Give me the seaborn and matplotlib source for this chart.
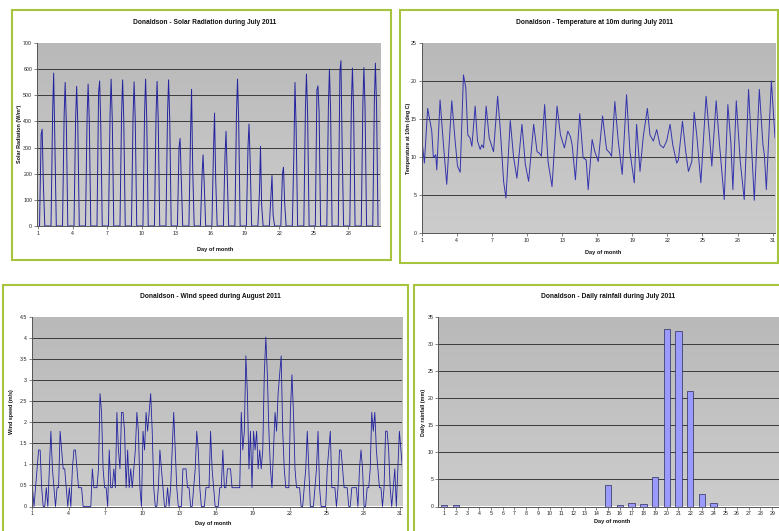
import numpy as np
import pandas as pd
import matplotlib
matplotlib.use("Agg")
import matplotlib.pyplot as plt
import seaborn as sns
from matplotlib.patches import Rectangle
from matplotlib.colors import LinearSegmentedColormap

sns.set_theme(style="white")
plt.rcParams['font.family'] = ['Liberation Sans', 'DejaVu Sans']

W, H = 779, 531

# ---- solar radiation, July 2011 (W/m2), one spike per day ----
solar_days = list(range(1, 31))
solar_peak = [370, 585, 549, 534, 543, 555, 562, 559, 551, 562, 553, 559, 335, 523, 272,
              432, 362, 562, 390, 305, 193, 225, 549, 581, 536, 600, 632, 604, 606, 623]
solar_am = [350, 435, 420, 410, 420, 510, 430, 430, 420, 430, 425, 430, 300, 345, 190,
            290, 270, 430, 300, 130, 120, 200, 290, 450, 520, 460, 590, 470, 470, 480]
solar_pm = [165, 335, 400, 390, 400, 385, 410, 410, 405, 410, 405, 410, 190, 218, 165,
            180, 200, 405, 250, 80, 40, 90, 380, 430, 435, 440, 320, 450, 450, 460]
day_frac = [0.12, 0.26, 0.35, 0.45, 0.58]   # sunrise, morning, noon, afternoon, sunset

# ---- temperature at 10m (deg C), turning points ----
temp_day = [1.0, 1.23, 1.51, 1.86, 2.0, 2.2, 2.29, 2.57, 2.86, 3.14, 3.57, 3.86, 4.06, 4.29,
            4.57, 4.77, 4.94, 5.14, 5.29, 5.57, 5.77, 6.0, 6.14, 6.29, 6.51, 6.77, 7.14, 7.49,
            7.71, 8.0, 8.2, 8.57, 8.86, 9.14, 9.57, 9.86, 10.14, 10.57, 10.86, 11.06, 11.23,
            11.51, 11.8, 12.14, 12.57, 12.86, 13.2, 13.49, 13.71, 13.86, 14.14, 14.51, 14.8,
            15.06, 15.23, 15.57, 15.8, 16.09, 16.46, 16.8, 17.09, 17.23, 17.51, 17.8, 18.14,
            18.51, 18.8, 19.17, 19.37, 19.66, 19.94, 20.29, 20.51, 20.8, 21.09, 21.37, 21.66,
            21.94, 22.23, 22.46, 22.8, 22.94, 23.29, 23.57, 23.8, 24.09, 24.29, 24.51, 24.86,
            25.31, 25.6, 25.8, 26.17, 26.46, 26.86, 27.17, 27.43, 27.6, 27.89, 28.23, 28.57,
            28.94, 29.23, 29.43, 29.86, 30.17, 30.29, 30.46, 30.89, 31.2]
temp_val = [12.5, 9.2, 16.4, 13.4, 9.9, 10.3, 8.3, 17.5, 11.6, 6.4, 17.4, 12.1, 8.8, 8.0,
            20.8, 19.1, 12.9, 12.5, 11.4, 16.7, 12.1, 11.0, 11.6, 11.2, 16.7, 12.5, 10.7, 18.0,
            13.8, 6.8, 4.6, 14.8, 9.9, 7.2, 14.3, 9.0, 6.8, 14.3, 10.7, 10.5, 10.1,
            16.9, 9.4, 6.1, 16.7, 12.9, 11.2, 13.4, 12.7, 11.6, 7.0, 15.7, 9.9,
            9.6, 5.7, 12.3, 10.7, 9.4, 15.4, 11.0, 10.5, 10.1, 17.3, 12.1, 7.7,
            18.2, 10.7, 6.6, 14.3, 8.1, 12.7, 16.4, 12.9, 12.1, 13.6, 11.6, 11.2,
            12.1, 14.3, 11.6, 9.2, 9.6, 14.7, 10.7, 8.1, 9.4, 15.9, 12.9, 6.6,
            18.0, 12.9, 8.8, 17.4, 11.6, 4.4, 16.9, 11.8, 5.7, 17.4, 9.4, 4.4,
            18.9, 10.3, 4.3, 18.9, 11.6, 10.3, 5.7, 20.0, 12.5]

# ---- wind speed, August 2011: 3-hourly readings in whole mph ----
wind_mph = [
    1, 0, 1, 2, 3, 3, 1, 0,   # 1
    0, 1, 0, 2, 4, 2, 1, 0,   # 2
    1, 1, 4, 3, 2, 2, 1, 0,   # 3
    1, 0, 2, 3, 3, 2, 1, 1,   # 4
    1, 0, 0, 0, 0, 0, 0, 2,   # 5
    1, 1, 1, 2, 6, 5, 2, 1,   # 6
    1, 0, 3, 1, 1, 2, 1, 5,   # 7
    3, 2, 5, 5, 4, 1, 3, 1,   # 8
    2, 1, 2, 3, 5, 4, 1, 0,   # 9
    4, 3, 5, 4, 5, 6, 4, 1,   # 10
    0, 0, 1, 3, 2, 1, 0, 0,   # 11
    1, 0, 1, 3, 5, 3, 1, 0,   # 12
    0, 0, 2, 2, 2, 1, 1, 0,   # 13
    0, 1, 2, 4, 3, 1, 0, 0,   # 14
    0, 1, 1, 1, 4, 2, 1, 0,   # 15
    0, 0, 1, 1, 3, 1, 1, 2,   # 16
    2, 2, 1, 1, 1, 1, 1, 1,   # 17
    5, 3, 4, 8, 6, 2, 4, 1,   # 18
    4, 3, 4, 2, 3, 2, 3, 7,   # 19
    9, 7, 4, 2, 1, 3, 5, 4,   # 20
    6, 7, 8, 4, 2, 1, 1, 1,   # 21
    5, 7, 5, 2, 1, 1, 1, 0,   # 22
    0, 1, 2, 4, 2, 0, 0, 0,   # 23
    1, 2, 4, 1, 0, 0, 0, 0,   # 24
    2, 3, 4, 1, 1, 1, 0, 1,   # 25
    3, 3, 2, 1, 1, 1, 0, 0,   # 26
    1, 1, 1, 1, 0, 2, 3, 2,   # 27
    0, 0, 1, 1, 2, 5, 4, 5,   # 28
    3, 2, 1, 1, 0, 1, 4, 4,   # 29
    3, 1, 0, 1, 2, 0, 2, 4,   # 30
    3, 2, 1, 0, 0, 0, 0, 0,   # 31
]

# ---- daily rainfall, July 2011 (mm) ----
rain_days = [str(d) for d in range(1, 32)]
rain_mm = [0.2, 0.2, 0, 0, 0, 0, 0, 0, 0, 0, 0, 0, 0, 0, 4.0, 0.2, 0.7, 0.5, 5.4, 32.7,
           32.4, 21.4, 2.3, 0.7, 0, 0, 0, 0, 0, 0, 0]

GREEN = '#a6c43e'
GRID = '#3a3a3a'
bg_cmap = LinearSegmentedColormap.from_list('bg', ['#cccccc', '#b9b9b9'])


def px_axes(fig, left, top, right, bottom):
    return fig.add_axes([left / W, 1 - bottom / H, (right - left) / W, (bottom - top) / H])


def frame(fig, left, top, right, bottom):
    fig.add_artist(Rectangle((left / W, 1 - bottom / H), (right - left) / W, (bottom - top) / H,
                             transform=fig.transFigure, fill=False, edgecolor=GREEN, lw=1.5))


def ftext(fig, x, y, s, size=4.3, rot=0):
    fig.text(x / W, 1 - y / H, s, ha='center', va='center', fontsize=size,
             fontweight='bold', rotation=rot, color='#111111')


def style(ax, xlim, ylim, yticks, xticks=None, xlabels=None):
    ax.imshow(np.linspace(0, 1, 64).reshape(-1, 1), extent=[0, 1, 0, 1], transform=ax.transAxes,
              cmap=bg_cmap, aspect='auto', origin='lower', zorder=0)
    ax.set_xlim(*xlim)
    ax.set_ylim(*ylim)
    ax.set_yticks(yticks)
    ax.set_yticklabels(['{:g}'.format(v) for v in yticks])
    if xticks is not None:
        ax.set_xticks(xticks)
        ax.set_xticklabels(xlabels if xlabels is not None else [str(v) for v in xticks])
    ax.set_xlabel('')
    ax.set_ylabel('')
    ax.yaxis.grid(True, color=GRID, lw=0.7)
    ax.set_axisbelow(True)
    gl = ax.get_ygridlines()
    gl[0].set_visible(False)
    gl[-1].set_visible(False)
    for s in ['top', 'right']:
        ax.spines[s].set_visible(False)
    for s in ['left', 'bottom']:
        ax.spines[s].set_color('#555555')
        ax.spines[s].set_linewidth(0.7)
    ax.tick_params(axis='both', labelsize=3.8, length=2, width=0.5, pad=1.5,
                   direction='out', colors='#555555', labelcolor='#222222')
    ax.tick_params(left=True, bottom=True)


fig = plt.figure(figsize=(W / 100, H / 100), dpi=100)
fig.patch.set_facecolor('white')

# solar radiation
frame(fig, 12, 10, 391, 260)
sx, sy = [], []
for d, a, p, m in zip(solar_days, solar_am, solar_peak, solar_pm):
    for f, v in zip(day_frac, [0, a, p, m, 0]):
        sx.append(d + f)
        sy.append(v)
ax1 = px_axes(fig, 37, 43, 380, 226)
sns.lineplot(x=sx, y=sy, ax=ax1, color='#2424a0', lw=0.7, estimator=None, sort=False)
style(ax1, (0.9, 30.75), (0, 700), list(range(0, 701, 100)), list(range(1, 29, 3)))
ftext(fig, 205, 22, 'Donaldson - Solar Radiation during July 2011', 4.8)
ftext(fig, 19, 134, 'Solar Radiation (W/m²)', 3.9, 90)
ftext(fig, 215, 250, 'Day of month', 4.1)

# temperature
frame(fig, 400, 10, 778, 263)
ax2 = px_axes(fig, 421.7, 43, 775, 233)
sns.lineplot(x=temp_day, y=temp_val, ax=ax2, color='#3434ac', lw=0.7, estimator=None, sort=False)
style(ax2, (1, 31.2), (0, 25), list(range(0, 26, 5)), list(range(1, 32, 3)))
ftext(fig, 595, 23, 'Donaldson - Temperature at 10m during July 2011', 4.8)
ftext(fig, 408, 138, 'Temperature at 10m (deg C)', 3.9, 90)
ftext(fig, 603, 252, 'Day of month', 4.1)

# wind speed
frame(fig, 3, 285, 408, 540)
wx, wy = [], []
for i, v in enumerate(wind_mph):
    wx.append(1 + i // 8 + (i % 8) / 8 + 1 / 16)
    wy.append(v * 0.447)
ax3 = px_axes(fig, 31.7, 317, 402, 506.5)
sns.lineplot(x=wx, y=wy, ax=ax3, color='#2323a0', lw=0.6, estimator=None, sort=False)
style(ax3, (1, 31.15), (0, 4.5), [i * 0.5 for i in range(10)], list(range(1, 32, 3)))
ftext(fig, 210, 297, 'Donaldson - Wind speed during August 2011', 4.8)
ftext(fig, 12, 412, 'Wind speed (m/s)', 3.9, 90)
ftext(fig, 213, 523, 'Day of month', 4.1)

# rainfall
frame(fig, 414, 285, 820, 540)
ax4 = px_axes(fig, 438.3, 317, 801.5, 506.5)
sns.barplot(x=rain_days, y=rain_mm, ax=ax4, color='#9a9aff', saturation=1, width=0.55,
            edgecolor='#2a2a5a', linewidth=0.5)
rain_labels = rain_days[:29] + ['', '']
style(ax4, (-0.5, 30.5), (0, 35), list(range(0, 36, 5)), list(range(31)), rain_labels)
ftext(fig, 608, 297, 'Donaldson - Daily rainfall during July 2011', 4.8)
ftext(fig, 423, 412, 'Daily rainfall (mm)', 3.9, 90)
ftext(fig, 612, 521, 'Day of month', 4.1)

fig.savefig('out.png', dpi=100)
